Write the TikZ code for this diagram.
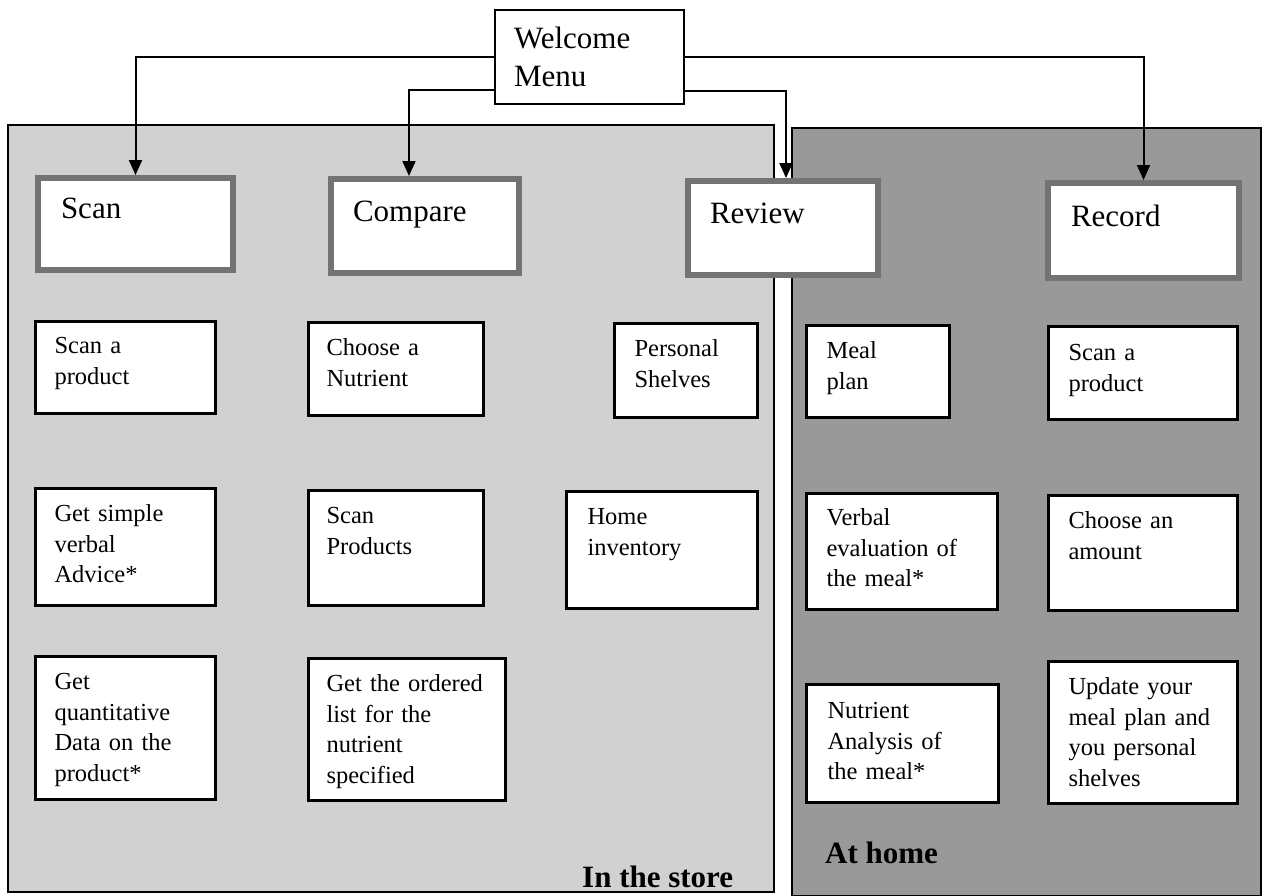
\documentclass[tikz,border=0pt]{standalone}
\usepackage{fontspec}
\setmainfont{Liberation Serif}
\usetikzlibrary{arrows.meta}
% #1 style, #2 name, #3 x1, #4 y1, #5 x2, #6 y2, #7 text x, #8 first baseline, #9 text
\newcommand\bxnode[9]{%
  \pgfmathsetmacro\bxa{#3+\bxlw/2}%
  \pgfmathsetmacro\bya{#4+\bxlw/2}%
  \pgfmathsetmacro\bxw{#5-#3-\bxlw}%
  \pgfmathsetmacro\bxix{#7-#3-\bxlw/2}%
  \pgfmathsetmacro\bxtw{\bxw-2*\bxix}%
  \pgfmathsetmacro\bxth{#8-#4-\bxlw/2}%
  \pgfmathsetmacro\bxtd{#6-#8-\bxlw/2}%
  \node[#1, anchor=north west, inner xsep=\bxix pt, inner ysep=0pt,
        text width=\bxtw pt, text height=\bxth pt, text depth=\bxtd pt] (#2) at (\bxa,\bya) {#9};%
}
\begin{document}
\begin{tikzpicture}[x=1pt,y=-1pt,
  big/.style={draw=black!55, line width=6pt, fill=white, align=left,
    font=\fontsize{31}{37}\selectfont},
  small/.style={draw=black, line width=3pt, fill=white, align=left,
    font=\fontsize{24.5}{30.7}\selectfont},
  title/.style={draw=black, line width=2pt, fill=white, align=left,
    font=\fontsize{31}{38}\selectfont},
  conn/.style={line width=2pt, -{Triangle[length=15pt,width=13pt]}},
  panel/.style={draw=black, line width=2pt},
  tag/.style={font=\bfseries\fontsize{31}{37}\selectfont, anchor=base west, inner sep=0pt}]
\useasboundingbox (0,0) rectangle (1268,895);
\fill[white] (0,0) rectangle (1268,895);
% panels
\fill[black!18] (8,125) rectangle (774,892);
\draw[panel] (8,125) rectangle (774,892);
\fill[black!40] (792,128) rectangle (1261,896);
\draw[panel] (792,128) rectangle (1261,896);
% welcome
\def\bxlw{2}
\bxnode{title}{wm}{493}{8}{684}{104}{513}{47}{Welcome\\Menu}
% main boxes
\def\bxlw{6}
\bxnode{big}{scan}{32}{172}{233}{270}{58}{215}{Scan}
\bxnode{big}{cmp}{325}{173}{519}{273}{350}{218}{Compare}
\bxnode{big}{rev}{682}{175}{878}{275}{707}{220}{Review}
\bxnode{big}{rec}{1042}{177}{1239}{278}{1068}{223}{Record}
% sub boxes
\def\bxlw{3}
\bxnode{small}{s1}{32}{318}{215}{413}{53}{352}{Scan a\\product}
\bxnode{small}{s2}{32}{485}{215}{605}{53}{520}{Get simple\\verbal\\Advice*}
\bxnode{small}{s3}{32}{653}{215}{799}{53}{688}{Get\\quantitative\\Data on the\\product*}
\bxnode{small}{c1}{305}{319}{483}{415}{325}{354}{Choose a\\Nutrient}
\bxnode{small}{c2}{305}{487}{483}{605}{325}{522}{Scan\\Products}
\bxnode{small}{c3}{305}{655}{505}{800}{325}{690}{Get the ordered\\list for the\\nutrient\\specified}
\bxnode{small}{p1}{611}{320}{757}{417}{633}{355}{Personal\\Shelves}
\bxnode{small}{p2}{563}{488}{757}{608}{586}{523}{Home\\inventory}
\bxnode{small}{m1}{803}{322}{949}{417}{825}{357}{Meal\\plan}
\bxnode{small}{m2}{803}{490}{997}{609}{825}{524}{Verbal\\evaluation of\\the meal*}
\bxnode{small}{m3}{803}{681}{998}{802}{826}{717}{Nutrient\\Analysis of\\the meal*}
\bxnode{small}{r1}{1045}{323}{1237}{419}{1067}{359}{Scan a\\product}
\bxnode{small}{r2}{1045}{492}{1237}{610}{1067}{527}{Choose an\\amount}
\bxnode{small}{r3}{1045}{658}{1237}{803}{1067}{693}{Update your\\meal plan and\\you personal\\shelves}
% labels
\node[tag] (store) at (582,887) {In the store};
\node[tag] (home) at (825,863) {At home};
% connectors
\draw[conn] (wm.west) -| (scan.north);
\draw[conn] ([yshift=-33pt]wm.west) -| ([xshift=-16pt]cmp.north);
\draw[conn] (wm.east) -| (rec.north);
\draw[conn] ([yshift=-34pt]wm.east) -| ([xshift=3pt]rev.north);
\end{tikzpicture}
\end{document}
